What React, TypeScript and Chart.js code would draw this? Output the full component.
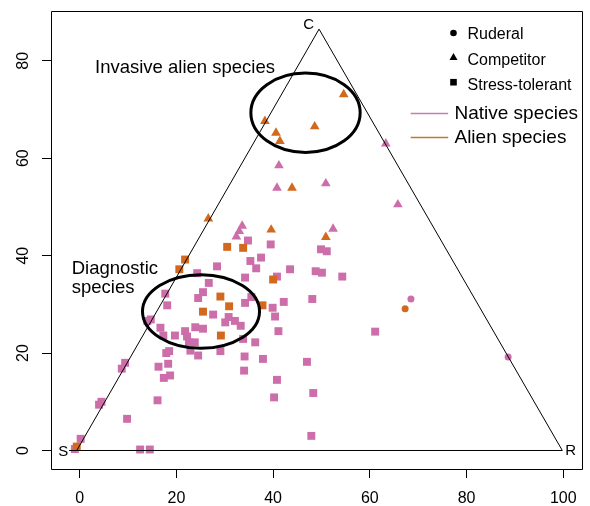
import React, { useEffect, useRef } from 'react';
import { Chart, registerables } from 'chart.js';

Chart.register(...registerables);

// ---------- data ----------
const X_TICKS = [0, 20, 40, 60, 80, 100];
const Y_TICKS = [0, 20, 40, 60, 80];

// ternary frame: S -> C -> R -> back along the base
const FRAME: [number, number][] = [[-0.6, 0], [49.5, 86.5], [99.8, 0], [-2.2, 0]];

// Stress-tolerant (squares)
const NATIVE_STRESS: [number, number][] = [
  [-1.0, 0.3], [0.2, 2.4], [4.5, 10.0], [4.0, 9.4], [8.7, 16.8], [9.4, 18.0], [9.8, 6.5],
  [12.5, 0.2], [14.5, 0.2], [16.1, 10.3], [14.0, 26.6], [14.7, 26.9], [16.7, 25.2], [17.3, 23.6],
  [17.7, 32.2], [18.1, 29.8], [19.7, 23.6], [21.8, 24.5], [22.2, 23.4], [22.6, 22.2], [23.8, 22.2],
  [22.9, 20.5], [24.5, 19.5], [23.9, 25.3], [25.5, 25.0], [24.3, 36.4], [24.5, 31.3], [25.5, 32.5],
  [26.7, 34.4], [27.6, 27.9], [28.4, 37.8], [29.1, 20.4], [30.1, 26.3], [30.8, 27.4], [32.1, 26.6],
  [33.3, 25.6], [33.8, 22.9], [34.2, 30.3], [34.2, 35.5], [35.3, 38.9], [35.5, 31.5], [36.5, 37.4],
  [37.5, 39.6], [34.1, 19.3], [34.0, 16.4], [36.3, 22.2], [37.9, 18.8], [39.9, 29.3], [40.4, 27.5],
  [41.1, 24.5], [40.8, 35.7], [42.2, 30.5], [43.5, 37.2], [40.8, 14.5], [40.2, 10.9], [16.3, 17.2],
  [18.3, 17.8], [17.4, 14.9], [18.7, 15.4], [17.9, 20.0], [18.5, 20.4], [34.8, 43.1], [39.5, 42.3],
  [49.9, 41.3], [51.1, 40.9], [48.8, 36.8], [50.1, 36.5], [48.1, 31.1], [54.3, 35.7], [61.1, 24.4],
  [47.0, 18.2], [48.3, 11.8], [47.9, 3.0],
];
const ALIEN_STRESS: [number, number][] = [
  [-0.6, 0.8], [21.8, 39.2], [20.6, 37.2], [30.5, 41.8], [33.8, 41.6], [40.0, 35.1],
  [29.1, 31.6], [30.9, 29.6], [25.5, 28.5], [29.2, 23.6], [37.8, 29.8],
];

// Competitor (triangles)
const NATIVE_COMP: [number, number][] = [
  [63.3, 63.0], [41.2, 58.5], [40.8, 53.9], [50.9, 54.8], [65.8, 50.5], [52.4, 45.5],
  [33.6, 46.1], [33.0, 45.0], [32.4, 43.9],
];
const ALIEN_COMP: [number, number][] = [
  [54.6, 73.1], [38.3, 67.6], [40.6, 65.2], [41.4, 63.5], [48.6, 66.5], [43.9, 53.9],
  [26.6, 47.6], [39.6, 45.3], [50.9, 43.8],
];

// Ruderal (circles)
const NATIVE_RUD: [number, number][] = [[68.5, 31.1], [88.6, 19.2]];
const ALIEN_RUD: [number, number][] = [[67.3, 29.1]];

const CORNER_LABELS = ['S', 'C', 'R'];
const GROUP_LABELS = ['Invasive alien species', 'Diagnostic', 'species'];
const STRATEGY_LABELS = ['Ruderal', 'Competitor', 'Stress-tolerant'];
const ORIGIN_LABELS = ['Native species', 'Alien species'];

// ---------- styles / annotation placement ----------
const NATIVE_COLOR = '#cc6eaa';
const ALIEN_COLOR = '#d2691e';
const NATIVE_LINE = '#c47cb4';
const ALIEN_LINE = '#c27a2a';
const FONT = '"Liberation Sans", Arial, Helvetica, sans-serif';

const ELLIPSES = [
  { cx: 46.7, cy: 69.33, rx: 11.3, ry: 8.15 },
  { cx: 25.09, cy: 28.54, rx: 12.1, ry: 7.56 },
];

const toPts = (a: [number, number][]) => a.map(([x, y]) => ({ x, y }));

const annotationPlugin = {
  id: 'ternaryAnnotations',
  afterDatasetsDraw(chart: any) {
    const { ctx, chartArea } = chart;
    const xs = chart.scales.x;
    const ys = chart.scales.y;
    const px = (v: number) => xs.getPixelForValue(v);
    const py = (v: number) => ys.getPixelForValue(v);
    ctx.save();

    // ellipses
    ctx.strokeStyle = '#000';
    ctx.lineWidth = 3;
    ELLIPSES.forEach((e) => {
      const cx = px(e.cx);
      const cy = py(e.cy);
      const rx = Math.abs(px(e.cx + e.rx) - cx);
      const ry = Math.abs(py(e.cy + e.ry) - cy);
      ctx.beginPath();
      ctx.ellipse(cx, cy, rx, ry, 0, 0, Math.PI * 2);
      ctx.stroke();
    });

    ctx.fillStyle = '#000';
    ctx.textBaseline = 'alphabetic';

    // group labels
    ctx.font = `18.5px ${FONT}`;
    ctx.textAlign = 'left';
    ctx.fillText(GROUP_LABELS[0], px(3.17), py(77.46));
    ctx.fillText(GROUP_LABELS[1], px(-1.65), py(36.28));
    ctx.fillText(GROUP_LABELS[2], px(-1.65), py(32.3));

    // corner labels
    ctx.font = `15px ${FONT}`;
    ctx.textAlign = 'center';
    ctx.fillText(CORNER_LABELS[0], px(-3.39), py(-1.13));
    ctx.fillText(CORNER_LABELS[1], px(47.36), py(86.43));
    ctx.fillText(CORNER_LABELS[2], px(101.54), py(-0.92));

    // strategy legend
    const symX = px(77.3);
    const textX = px(80.2);
    const symY = [85.7, 80.7, 75.6].map(py);
    const baseY = [84.4, 79.2, 74.1].map(py);
    ctx.fillStyle = '#000';
    ctx.beginPath();
    ctx.arc(symX, symY[0], 3.3, 0, Math.PI * 2);
    ctx.fill();
    ctx.beginPath();
    ctx.moveTo(symX, symY[1] - 4.4);
    ctx.lineTo(symX + 4, symY[1] + 2.7);
    ctx.lineTo(symX - 4, symY[1] + 2.7);
    ctx.closePath();
    ctx.fill();
    ctx.fillRect(symX - 3.3, symY[2] - 3.3, 6.6, 6.6);
    ctx.font = `16px ${FONT}`;
    ctx.textAlign = 'left';
    STRATEGY_LABELS.forEach((t, i) => ctx.fillText(t, textX, baseY[i]));

    // origin legend
    const lx1 = px(68.45);
    const lx2 = px(76.2);
    const lineY = [69.2, 64.3].map(py);
    const lineBase = [67.95, 63.1].map(py);
    [NATIVE_LINE, ALIEN_LINE].forEach((c, i) => {
      ctx.strokeStyle = c;
      ctx.lineWidth = 1.3;
      ctx.beginPath();
      ctx.moveTo(lx1, Math.round(lineY[i]) + 0.5);
      ctx.lineTo(lx2, Math.round(lineY[i]) + 0.5);
      ctx.stroke();
    });
    ctx.fillStyle = '#000';
    ctx.font = `19px ${FONT}`;
    ORIGIN_LABELS.forEach((t, i) => ctx.fillText(t, px(77.5), lineBase[i]));

    // plot box
    ctx.strokeStyle = '#000';
    ctx.lineWidth = 1;
    const l = chartArea.left + 0.5;
    const r = chartArea.right - 0.5;
    const t = chartArea.top + 0.5;
    const b = chartArea.bottom + 0.5;
    ctx.beginPath();
    ctx.moveTo(l, t);
    ctx.lineTo(r, t);
    ctx.lineTo(r, b);
    ctx.lineTo(l, b);
    ctx.closePath();
    ctx.stroke();

    ctx.restore();
  },
};

function buildConfig(): any {
  const pointSet = (label: string, pts: [number, number][], color: string, style: string, radius: number) => ({
    label,
    data: toPts(pts),
    pointStyle: style,
    pointRadius: radius,
    pointHoverRadius: radius,
    pointBackgroundColor: color,
    pointBorderColor: color,
    pointBorderWidth: 0,
    showLine: false,
  });
  const zeroPad = (s: any) => {
    s.paddingTop = 0;
    s.paddingBottom = 0;
    s.paddingLeft = 0;
    s.paddingRight = 0;
  };
  return {
    type: 'scatter',
    data: {
      datasets: [
        {
          label: 'frame',
          data: toPts(FRAME),
          showLine: true,
          borderColor: '#000',
          borderWidth: 1,
          pointRadius: 0,
          fill: false,
          tension: 0,
        },
        pointSet('Alien ruderal', ALIEN_RUD, ALIEN_COLOR, 'circle', 3.5),
        pointSet('Alien competitor', ALIEN_COMP, ALIEN_COLOR, 'triangle', 5.6),
        pointSet('Alien stress-tolerant', ALIEN_STRESS, ALIEN_COLOR, 'rect', 5.6),
        pointSet('Native ruderal', NATIVE_RUD, NATIVE_COLOR, 'circle', 3.5),
        pointSet('Native competitor', NATIVE_COMP, NATIVE_COLOR, 'triangle', 5.6),
        pointSet('Native stress-tolerant', NATIVE_STRESS, NATIVE_COLOR, 'rect', 5.6),
      ],
    },
    options: {
      animation: false,
      responsive: false,
      maintainAspectRatio: false,
      layout: { padding: { left: 0, top: 11, right: 7, bottom: 0 } },
      plugins: { legend: { display: false }, tooltip: { enabled: false } },
      scales: {
        x: {
          type: 'linear',
          min: -5.93,
          max: 104.08,
          afterBuildTicks: (s: any) => {
            s.ticks = X_TICKS.map((v) => ({ value: v }));
          },
          afterFit: (s: any) => {
            s.height = 37;
            zeroPad(s);
          },
          grid: { display: true, drawOnChartArea: false, drawTicks: true, tickLength: 9, color: '#000', lineWidth: 1 },
          border: { display: false },
          ticks: {
            color: '#000',
            font: { family: FONT, size: 16 },
            padding: 10.5,
            autoSkip: false,
            minRotation: 0,
            maxRotation: 0,
          },
        },
        y: {
          type: 'linear',
          min: -3.8,
          max: 90.22,
          afterBuildTicks: (s: any) => {
            s.ticks = Y_TICKS.map((v) => ({ value: v }));
          },
          afterFit: (s: any) => {
            s.width = 51;
            zeroPad(s);
          },
          grid: { display: true, drawOnChartArea: false, drawTicks: true, tickLength: 9, color: '#000', lineWidth: 1 },
          border: { display: false },
          ticks: {
            color: '#000',
            font: { family: FONT, size: 16 },
            padding: 9.3,
            autoSkip: false,
            minRotation: 90,
            maxRotation: 90,
            crossAlign: 'center',
          },
        },
      },
    },
    plugins: [annotationPlugin],
  };
}

export default function App() {
  const ref = useRef<HTMLCanvasElement>(null);
  useEffect(() => {
    if (!ref.current) return;
    const chart = new Chart(ref.current, buildConfig());
    return () => chart.destroy();
  }, []);
  return (
    <div style={{ position: 'fixed', left: 0, top: 0, width: 590, height: 506, background: '#fff' }}>
      <canvas ref={ref} width={590} height={506} style={{ display: 'block', width: 590, height: 506 }} />
    </div>
  );
}
